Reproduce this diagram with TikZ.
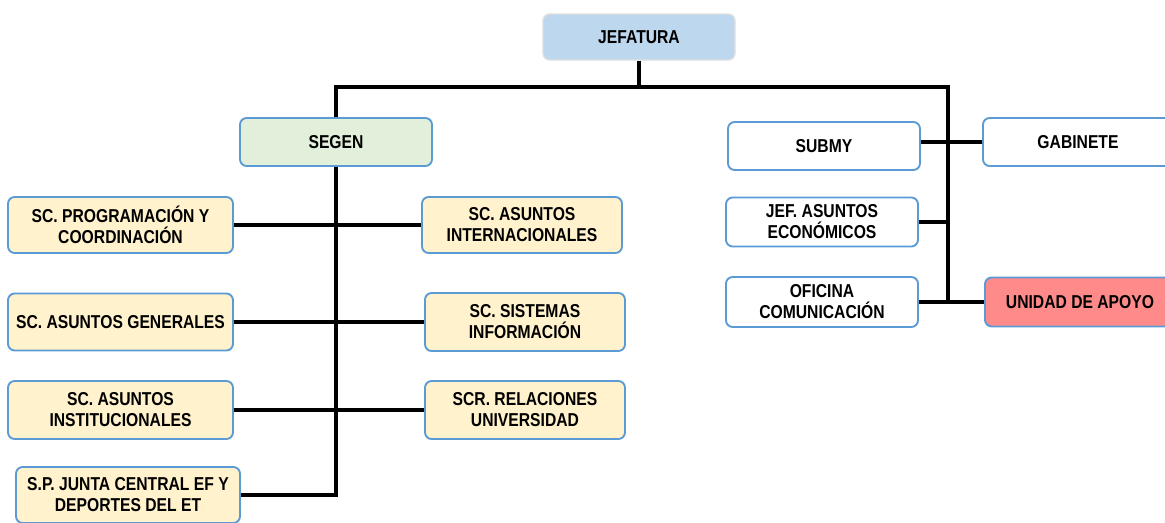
\documentclass[tikz,border=0pt]{standalone}
\usepackage{fontspec}
\setmainfont{Liberation Sans}[FakeStretch=0.84]
\definecolor{bdr}{HTML}{5B9BD5}
\definecolor{jefc}{HTML}{BDD7EE}
\definecolor{segc}{HTML}{E2EFDA}
\definecolor{yelc}{HTML}{FFF2CC}
\definecolor{redc}{HTML}{FF8A8A}
\begin{document}
\begin{tikzpicture}[x=0.75pt,y=-0.75pt,
  box/.style={draw=bdr,line width=1.4pt,rounded corners=5pt,align=center,
    font=\fontsize{14}{15.8}\selectfont\bfseries,inner sep=1pt},
  wbox/.style={box,fill=white},
  ybox/.style={box,fill=yelc},
  conn/.style={line width=2.6pt,black}]
\clip (0,0) rectangle (1165,522);
\useasboundingbox (0,0) rectangle (1165,522);
\fill[white] (0,0) rectangle (1165,522);
% nodes
\node[box,draw=gray!25,line width=1pt,fill=jefc,minimum width=144pt,minimum height=34.5pt] (jef) at (639,37) {JEFATURA};
\node[box,fill=segc,minimum width=144pt,minimum height=36pt] (segen) at (336,142) {SEGEN};
\node[ybox,minimum width=168.75pt,minimum height=42pt] (prog) at (120.5,225) {SC. PROGRAMACIÓN Y\\COORDINACIÓN};
\node[ybox,minimum width=168.75pt,minimum height=42.75pt] (gen) at (120.5,322) {SC. ASUNTOS GENERALES};
\node[ybox,minimum width=168.75pt,minimum height=43.5pt] (inst) at (120.5,410) {SC. ASUNTOS\\INSTITUCIONALES};
\node[ybox,minimum width=168pt,minimum height=42pt] (spj) at (128,495) {S.P. JUNTA CENTRAL EF Y\\DEPORTES DEL ET};
\node[ybox,minimum width=150pt,minimum height=42pt] (intl) at (522,225) {SC. ASUNTOS\\INTERNACIONALES};
\node[ybox,minimum width=150pt,minimum height=43.5pt] (sis) at (525,322) {SC. SISTEMAS\\INFORMACIÓN};
\node[ybox,minimum width=150pt,minimum height=43.5pt] (rel) at (525,410) {SCR. RELACIONES\\UNIVERSIDAD};
\node[wbox,minimum width=144pt,minimum height=36pt] (submy) at (824,146) {SUBMY};
\node[wbox,minimum width=142.5pt,minimum height=36pt] (gab) at (1078,142) {GABINETE};
\node[wbox,minimum width=144pt,minimum height=36.75pt] (jefe) at (822,222) {JEF. ASUNTOS\\ECONÓMICOS};
\node[wbox,minimum width=144pt,minimum height=37.5pt] (ofi) at (822,302) {OFICINA\\COMUNICACIÓN};
\node[box,fill=redc,minimum width=142.5pt,minimum height=36.75pt] (apoyo) at (1080,302) {UNIDAD DE APOYO};
% junction coordinates
\coordinate (jj) at (639,87);
\coordinate (rtop) at (948,87);
\coordinate (rbot) at (948,302);
% connectors
\draw[conn] (jef.south) -- (jj);
\draw[conn] (segen.north) |- (rtop) -- (rbot);
\draw[conn] (segen.south) |- (spj.east);
\draw[conn] (prog.east) -- (intl.west);
\draw[conn] (gen.east) -- (sis.west);
\draw[conn] (inst.east) -- (rel.west);
\draw[conn] (gab.west) -- (gab.west -| submy.east);
\draw[conn] (jefe.east) -- (jefe.east -| rtop);
\draw[conn] (ofi.east) -- (apoyo.west);
\end{tikzpicture}
\end{document}
